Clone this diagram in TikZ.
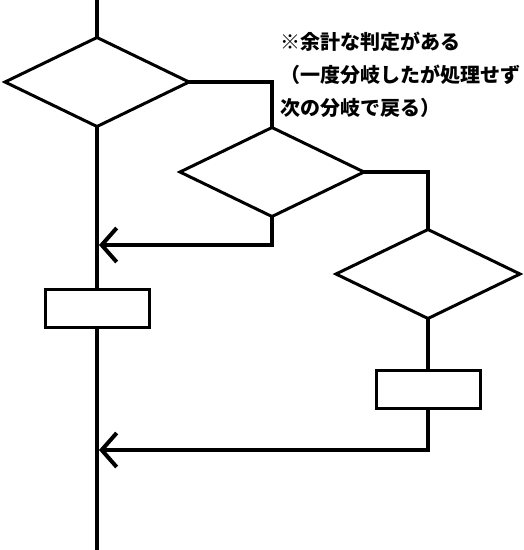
\documentclass[tikz,border=0pt]{standalone}
\usepackage{fontspec}
\newfontfamily\jpfont{Noto Sans CJK JP}
\usetikzlibrary{shapes.geometric,arrows.meta}
\begin{document}
\begin{tikzpicture}
  [x=1pt,y=-1pt,
   decision/.style={diamond,draw=black,line width=3pt,fill=white,inner sep=0pt,outer sep=0pt,aspect=2.07,minimum width=184pt,minimum height=89pt},
   process/.style={rectangle,draw=black,line width=3pt,fill=white,inner sep=0pt,outer sep=0pt,minimum width=104pt,minimum height=38pt},
   flow/.style={line width=4.8pt},
   merge/.style={flow,-{Straight Barb[length=15pt,width=34pt,line width=4pt]}}]
  \useasboundingbox (0,0) rectangle (524,550);

  \node[decision] (d1) at (97,82) {};
  \node[decision] (d2) at (272,172) {};
  \node[decision] (d3) at (428,274) {};
  \node[process] (r1) at (97,308) {};
  \node[process] (r3) at (428,389) {};

  \coordinate (start) at (97,0);
  \coordinate (end) at (97,550);
  \coordinate (m1) at (99,245);
  \coordinate (m2) at (99,450);

  \foreach \from/\to in {start/d1.north, d1.south/r1.north, r1.south/end, d3.south/r3.north}
    \draw[flow] (\from) -- (\to);

  \draw[flow] (d1.east) -| (d2.north);
  \draw[flow] (d2.east) -| (d3.north);
  \draw[merge] (d2.south) |- (m1);
  \draw[merge] (r3.south) |- (m2);

  %注記
  \node[anchor=north west, inner sep=0pt, align=left,
        font=\jpfont\bfseries\fontsize{20}{33}\selectfont] (note) at (280,32)
    {※余計な判定がある\\（一度分岐したが処理せず\\次の分岐で戻る）};
\end{tikzpicture}
\end{document}
